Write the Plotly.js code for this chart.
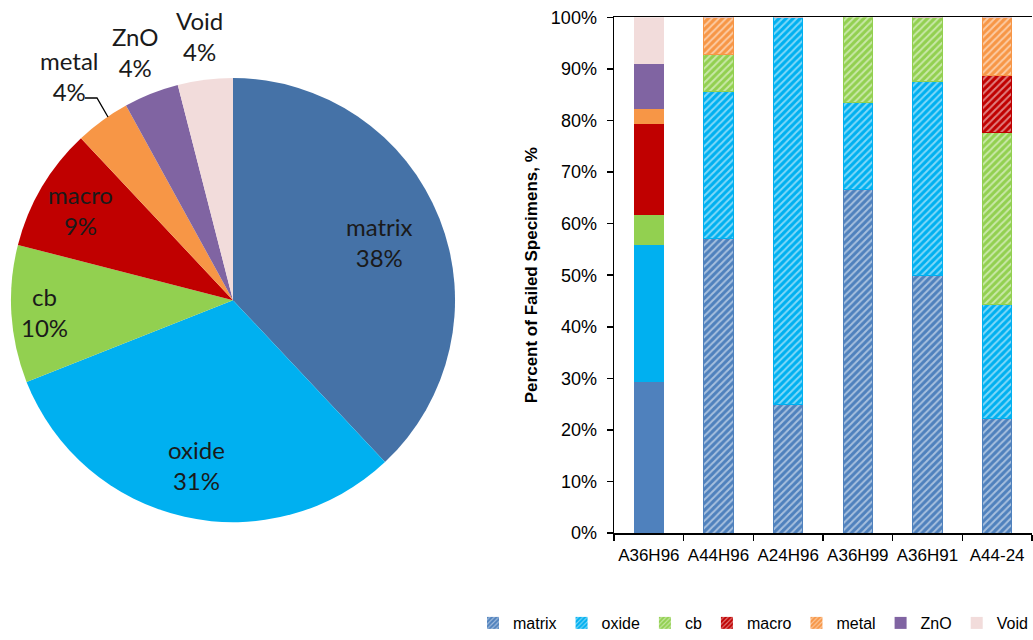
<!DOCTYPE html>
<html>
<head>
<meta charset="utf-8">
<script src="https://cdn.plot.ly/plotly-3.0.1.min.js"></script>
<style>html,body{margin:0;padding:0;background:#fff;}#chart{width:1033px;height:640px;}</style>
</head>
<body>
<div id="chart"></div>
<script>
// Pie: overall share of failure causes (%)
const pieLabels = ['matrix', 'oxide', 'cb', 'macro', 'metal', 'ZnO', 'Void'];
const pieValues = [38, 31, 10, 9, 4, 4, 4];

// Bars: percent of failed specimens per material
const categories = ['A36H96', 'A44H96', 'A24H96', 'A36H99', 'A36H91', 'A44-24'];
const matrix = [29.4, 57.1, 25.0, 66.7, 50.0, 22.2];
const oxide  = [26.5, 28.6, 75.0, 16.7, 37.5, 22.2];
const cb     = [5.9, 7.1, 0, 16.7, 12.5, 33.3];
const macro  = [17.6, 0, 0, 0, 0, 11.1];
const metal  = [2.9, 7.1, 0, 0, 0, 11.1];
const ZnO    = [8.8, 0, 0, 0, 0, 0];
const Void   = [8.8, 0, 0, 0, 0, 0];
const hatched = [false, true, true, true, true, true];

const pieColors = ['#4572A7', '#00B0F0', '#92D050', '#C00000', '#F79646', '#8064A2', '#F2DCDB'];
const barColors = {matrix:'#4F81BD', oxide:'#00B0F0', cb:'#92D050', macro:'#C00000', metal:'#F79646', ZnO:'#8064A2', Void:'#F2DCDB'};
const legendHatched = {matrix:true, oxide:true, cb:true, macro:true, metal:true, ZnO:false, Void:false};
// label distance from pie centre, as a fraction of the radius (layout only)
const labelRadius = [0.71, 0.76, 0.85, 0.80, 1.25, 1.2, 1.2];

const series = {matrix, oxide, cb, macro, metal, ZnO, Void};

const W = 1033, H = 640;
const pieDomX = [0.0106, 0.4405], pieDomY = [0.184, 0.878];
const cx = (pieDomX[0] + pieDomX[1]) / 2 * W;
const cy = (1 - (pieDomY[0] + pieDomY[1]) / 2) * H;
const R = (pieDomX[1] - pieDomX[0]) * W / 2;

const traces = [{
  type: 'pie',
  labels: pieLabels,
  values: pieValues,
  sort: false,
  direction: 'clockwise',
  rotation: 0,
  marker: {colors: pieColors, line: {width: 0}},
  textinfo: 'none',
  domain: {x: pieDomX, y: pieDomY},
  showlegend: false,
  hoverinfo: 'label+percent'
}];

Object.keys(series).forEach(name => {
  const col = barColors[name];
  traces.push({
    type: 'bar',
    name: name,
    x: categories,
    y: series[name].map(v => v / 100),
    xaxis: 'x', yaxis: 'y',
    showlegend: false,
    marker: {
      color: col,
      line: {color: col, width: 1},
      pattern: {
        shape: hatched.map(h => h ? '/' : ''),
        bgcolor: col,
        fgcolor: '#ffffff',
        size: 5,
        solidity: 0.4,
        fillmode: 'overlay'
      }
    }
  });
});

// legend-only entries (zero-height) to show the hatch style in the legend
Object.keys(series).forEach(name => {
  const col = barColors[name];
  traces.push({
    type: 'bar',
    name: name,
    x: [categories[0]],
    y: [0],
    xaxis: 'x', yaxis: 'y',
    showlegend: true,
    hoverinfo: 'skip',
    marker: {
      color: col,
      line: {width: 0},
      pattern: {
        shape: legendHatched[name] ? '/' : '',
        bgcolor: col,
        fgcolor: '#ffffff',
        size: 4,
        solidity: 0.35,
        fillmode: 'overlay'
      }
    }
  });
});

// pie labels placed at the slice mid-angle
const total = pieValues.reduce((a, b) => a + b, 0);
const annotations = [];
let cum = 0;
pieValues.forEach((v, i) => {
  const mid = (cum + v / 2) / total * 2 * Math.PI;
  cum += v;
  const d = labelRadius[i] * R;
  const px = cx + Math.sin(mid) * d;
  const py = cy - Math.cos(mid) * d;
  annotations.push({
    xref: 'paper', yref: 'paper',
    x: px / W, y: 1 - py / H,
    xanchor: 'center', yanchor: 'middle',
    text: pieLabels[i] + '<br>' + Math.round(v / total * 100) + '%',
    showarrow: false,
    font: {family: 'Lato, "Open Sans", sans-serif', size: 24, color: '#1a1a1a'}
  });
});

const tickFont = {family: 'Arial, "Liberation Sans", sans-serif', size: 18, color: '#000'};

const layout = {
  width: W, height: H,
  margin: {l: 0, r: 0, t: 0, b: 0},
  paper_bgcolor: '#fff', plot_bgcolor: '#fff',
  barmode: 'stack',
  bargap: 0.58,
  font: tickFont,
  annotations: annotations,
  shapes: [{
    type: 'path', xref: 'paper', yref: 'paper',
    path: 'M ' + (85 / W) + ' ' + (1 - 98 / H) + ' L ' + (97 / W) + ' ' + (1 - 98 / H) + ' L ' + (108 / W) + ' ' + (1 - 117 / H),
    line: {color: '#000', width: 1.3}
  }],
  xaxis: {
    domain: [0.5944, 0.999],
    type: 'category',
    showline: true, linecolor: '#000', linewidth: 1.5,
    mirror: true,
    ticks: 'outside', ticklen: 6, tickcolor: '#000', tickwidth: 1.5,
    tickson: 'boundaries',
    tickangle: 0,
    ticklabelstandoff: 6,
    showgrid: false,
    tickfont: {family: 'Arial, "Liberation Sans", sans-serif', size: 17, color: '#000'},
    fixedrange: true
  },
  yaxis: {
    domain: [0.167, 0.973],
    range: [0, 1],
    dtick: 0.1,
    tickformat: '.0%',
    showline: true, linecolor: '#000', linewidth: 1.5,
    ticks: 'outside', ticklen: 6, tickcolor: '#000', tickwidth: 1.5,
    ticklabelstandoff: 6,
    showgrid: false, zeroline: false,
    tickfont: tickFont,
    title: {text: 'Percent of Failed Specimens, %', font: {family: 'Arial, "Liberation Sans", sans-serif', size: 17, color: '#000', weight: 'bold'}, standoff: 9},
    fixedrange: true
  },
  legend: {
    orientation: 'h',
    x: 1.0, xanchor: 'right',
    y: 0.0, yanchor: 'bottom',
    font: {family: 'Arial, "Liberation Sans", sans-serif', size: 16, color: '#000'},
    itemwidth: 30,
    traceorder: 'normal',
    tracegroupgap: 0
  }
};

Plotly.newPlot('chart', traces, layout, {displayModeBar: false, staticPlot: true});
</script>
</body>
</html>
